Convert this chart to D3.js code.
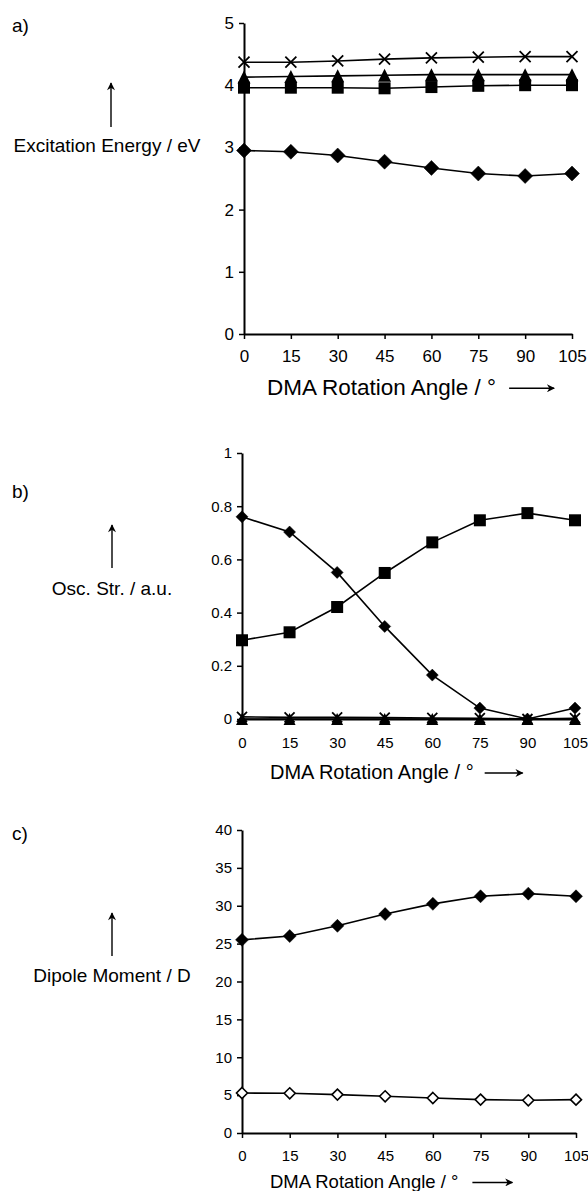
<!DOCTYPE html>
<html>
<head>
<meta charset="utf-8">
<script src="https://cdn.jsdelivr.net/npm/d3@7"></script>
<style>
  body { margin: 0; background: #fff; }
  svg { display: block; font-family: Arial, "Liberation Sans", Helvetica, sans-serif; }
</style>
</head>
<body>
<svg id="chart" width="588" height="1191"></svg>
<script>
// rotation angles (x axis, same for all panels)
const angles = [0, 15, 30, 45, 60, 75, 90, 105];

// a) excitation energies / eV
const energyDiamond = [2.95, 2.93, 2.87, 2.77, 2.67, 2.58, 2.54, 2.58];
const energySquare = [3.96, 3.96, 3.96, 3.95, 3.97, 3.99, 4.00, 4.00];
const energyTriangle = [4.13, 4.14, 4.15, 4.16, 4.17, 4.17, 4.17, 4.17];
const energyCross = [4.37, 4.37, 4.39, 4.42, 4.44, 4.45, 4.46, 4.46];
const energyTicks = [0, 1, 2, 3, 4, 5];

// b) oscillator strengths / a.u.
const oscDiamond = [0.76, 0.703, 0.551, 0.348, 0.165, 0.041, 0.0, 0.041];
const oscSquare = [0.296, 0.326, 0.421, 0.549, 0.664, 0.747, 0.774, 0.747];
const oscTriangle = [0, 0, 0, 0, 0, 0, 0, 0];
const oscCross = [0.008, 0.006, 0.006, 0.005, 0.004, 0.003, 0.0, 0.003];
const oscTicks = [0, 0.2, 0.4, 0.6, 0.8, 1];

// c) dipole moments / D
const dipoleFilled = [25.5, 26.0, 27.35, 28.9, 30.25, 31.25, 31.6, 31.25];
const dipoleOpen = [5.28, 5.24, 5.07, 4.85, 4.62, 4.41, 4.32, 4.4];
const dipoleTicks = [0, 5, 10, 15, 20, 25, 30, 35, 40];

const svg = d3.select("#chart");

// arrow head used for the little axis arrows
svg.append("defs").append("marker")
    .attr("id", "head")
    .attr("viewBox", "0 0 10 10")
    .attr("refX", 9).attr("refY", 5)
    .attr("markerWidth", 9).attr("markerHeight", 8)
    .attr("markerUnits", "userSpaceOnUse")
    .attr("orient", "auto")
    .append("path")
    .attr("d", "M0,0 L10,5 L0,10 L3,5 Z")
    .attr("fill", "#000");

// marker shapes
function drawMarker(g, shape, size) {
    const h = size / 2;
    if (shape === "diamond" || shape === "openDiamond") {
        g.append("path")
            .attr("d", `M0,${-h} L${h},0 L0,${h} L${-h},0 Z`)
            .attr("fill", shape === "diamond" ? "#000" : "#fff")
            .attr("stroke", "#000")
            .attr("stroke-width", shape === "diamond" ? 0.5 : 1.6);
    } else if (shape === "square") {
        g.append("rect")
            .attr("x", -h).attr("y", -h)
            .attr("width", size).attr("height", size)
            .attr("fill", "#000");
    } else if (shape === "triangle") {
        g.append("path")
            .attr("d", `M0,${-h} L${h},${h} L${-h},${h} Z`)
            .attr("fill", "#000");
    } else if (shape === "cross") {
        g.append("path")
            .attr("d", `M${-h},${-h} L${h},${h} M${h},${-h} L${-h},${h}`)
            .attr("stroke", "#000")
            .attr("stroke-width", 1.8)
            .attr("fill", "none");
    }
}

function drawPanel(opt) {
    const x = d3.scaleLinear().domain([0, 105]).range([opt.x0, opt.x1]);
    const y = d3.scaleLinear().domain([opt.yTicks[0], opt.yTicks[opt.yTicks.length - 1]])
        .range([opt.y0, opt.y1]);

    const g = svg.append("g");

    // axes
    const xAxis = g.append("g")
        .attr("transform", `translate(0,${opt.y0})`)
        .call(d3.axisBottom(x).tickValues(angles).tickSize(5).tickSizeOuter(0).tickPadding(opt.xPad));
    const yAxis = g.append("g")
        .attr("transform", `translate(${opt.x0},0)`)
        .call(d3.axisLeft(y).tickValues(opt.yTicks).tickSize(5).tickSizeOuter(0).tickPadding(5)
            .tickFormat(d3.format("~g")));
    [xAxis, yAxis].forEach(a => {
        a.select(".domain").attr("stroke", "#000").attr("stroke-width", 2);
        a.selectAll(".tick line").attr("stroke", "#000").attr("stroke-width", 1.5);
        a.selectAll("text").attr("fill", "#000")
            .style("font-family", "Arial, 'Liberation Sans', sans-serif")
            .style("font-size", opt.tickFont + "px");
    });

    // series lines and markers
    const line = d3.line().x((d, i) => x(angles[i])).y(d => y(d));
    opt.series.forEach(s => {
        g.append("path")
            .datum(s.values)
            .attr("d", line)
            .attr("fill", "none")
            .attr("stroke", "#000")
            .attr("stroke-width", 1.6);
    });
    opt.series.forEach(s => {
        s.values.forEach((v, i) => {
            const m = g.append("g").attr("transform", `translate(${x(angles[i])},${y(v)})`);
            drawMarker(m, s.shape, s.size);
        });
    });

    // panel letter
    g.append("text")
        .attr("x", 12).attr("y", opt.letterY)
        .attr("font-size", 19)
        .text(opt.letter);

    // y label with arrow
    g.append("line")
        .attr("x1", opt.arrowX).attr("x2", opt.arrowX)
        .attr("y1", opt.arrowY0).attr("y2", opt.arrowY1)
        .attr("stroke", "#000").attr("stroke-width", 1.4)
        .attr("marker-end", "url(#head)");
    g.append("text")
        .attr("x", opt.labelX).attr("y", opt.labelY)
        .attr("text-anchor", "middle")
        .attr("font-size", opt.labelFont)
        .text(opt.yLabel);

    // x title with arrow
    const title = g.append("text")
        .attr("x", opt.titleX).attr("y", opt.titleY)
        .attr("font-size", opt.titleFont)
        .text("DMA Rotation Angle / °");
    const tw = title.node().getComputedTextLength();
    g.append("line")
        .attr("x1", opt.titleX + tw + opt.arrowGap).attr("x2", opt.titleX + tw + opt.arrowGap + opt.arrowLen)
        .attr("y1", opt.titleY - opt.titleFont * 0.3).attr("y2", opt.titleY - opt.titleFont * 0.3)
        .attr("stroke", "#000").attr("stroke-width", 1.4)
        .attr("marker-end", "url(#head)");
}

drawPanel({
    letter: "a)", letterY: 32,
    x0: 244, x1: 572, y0: 334, y1: 23,
    yTicks: energyTicks, tickFont: 17, xPad: 11,
    yLabel: "Excitation Energy / eV", labelFont: 19, labelX: 107, labelY: 152,
    arrowX: 111, arrowY0: 127, arrowY1: 83,
    titleX: 267, titleY: 395, titleFont: 22.5, arrowGap: 13, arrowLen: 45,
    series: [
        { values: energyDiamond, shape: "diamond", size: 15 },
        { values: energySquare, shape: "square", size: 12 },
        { values: energyTriangle, shape: "triangle", size: 13 },
        { values: energyCross, shape: "cross", size: 11 }
    ]
});

drawPanel({
    letter: "b)", letterY: 498,
    x0: 242, x1: 575, y0: 719, y1: 453,
    yTicks: oscTicks, tickFont: 15, xPad: 13,
    yLabel: "Osc. Str. / a.u.", labelFont: 19, labelX: 112, labelY: 595,
    arrowX: 112, arrowY0: 568, arrowY1: 525,
    titleX: 270, titleY: 779, titleFont: 20, arrowGap: 11, arrowLen: 38,
    series: [
        { values: oscDiamond, shape: "diamond", size: 12 },
        { values: oscSquare, shape: "square", size: 12 },
        { values: oscCross, shape: "cross", size: 10 },
        { values: oscTriangle, shape: "triangle", size: 12 }
    ]
});

drawPanel({
    letter: "c)", letterY: 840,
    x0: 242, x1: 576, y0: 1133, y1: 830,
    yTicks: dipoleTicks, tickFont: 15, xPad: 12,
    yLabel: "Dipole Moment / D", labelFont: 19, labelX: 112, labelY: 982,
    arrowX: 112, arrowY0: 956, arrowY1: 913,
    titleX: 270, titleY: 1188, titleFont: 18.5, arrowGap: 14, arrowLen: 40,
    series: [
        { values: dipoleFilled, shape: "diamond", size: 13 },
        { values: dipoleOpen, shape: "openDiamond", size: 11 }
    ]
});
</script>
</body>
</html>
